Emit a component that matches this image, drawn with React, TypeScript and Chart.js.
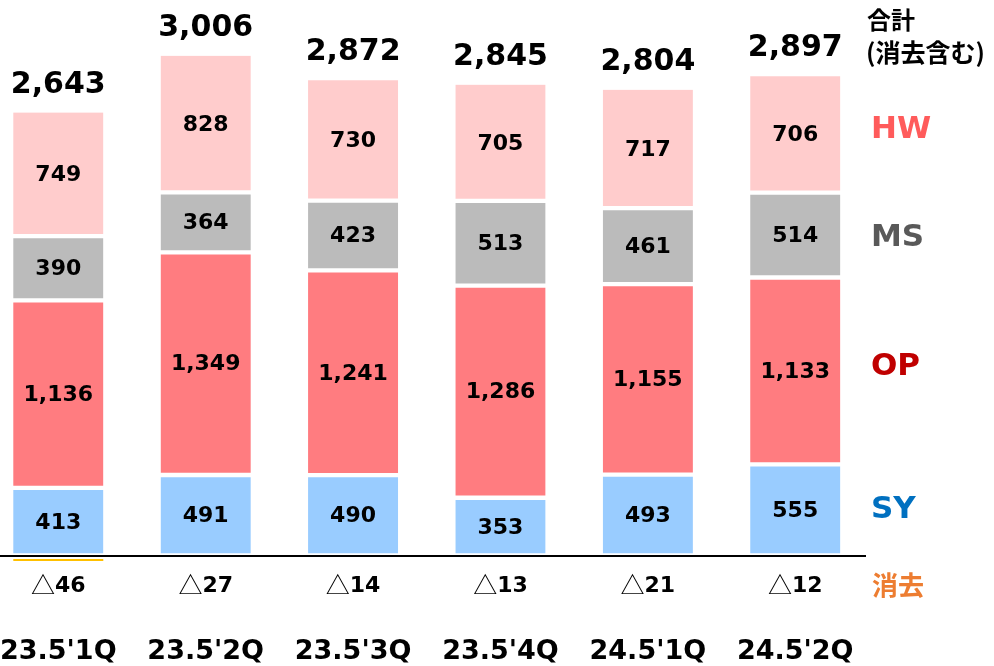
import React, { useEffect, useRef } from "react";
import { Chart, registerables } from "chart.js";

Chart.register(...registerables);

const categories = ["23.5'1Q", "23.5'2Q", "23.5'3Q", "23.5'4Q", "24.5'1Q", "24.5'2Q"];
const sy = [413, 491, 490, 353, 493, 555];
const op = [1136, 1349, 1241, 1286, 1155, 1133];
const ms = [390, 364, 423, 513, 461, 514];
const hw = [749, 828, 730, 705, 717, 706];
const elimination = [46, 27, 14, 13, 21, 12];
const totals = [2643, 3006, 2872, 2845, 2804, 2897];

const NUM_FONT = "'DejaVu Sans', 'Noto Sans CJK JP', sans-serif";
const CJK_FONT = "'Noto Sans CJK JP', 'DejaVu Sans', sans-serif";

const fmt = (v: number) => v.toLocaleString("en-US");

export default function App() {
  const ref = useRef<HTMLCanvasElement | null>(null);

  useEffect(() => {
    if (!ref.current) return;
    const toPts = (arr: number[]) => arr.map((v, i) => ({ x: i, y: v }));

    const labelPlugin = {
      id: "customLabels",
      afterDatasetsDraw(chart: any) {
        const ctx = chart.ctx as CanvasRenderingContext2D;
        const area = chart.chartArea;
        const xs = chart.scales.x;
        ctx.save();
        // segment labels
        chart.data.datasets.forEach((ds: any, di: number) => {
          const meta = chart.getDatasetMeta(di);
          meta.data.forEach((el: any, i: number) => {
            const v = ds.data[i].y;
            ctx.fillStyle = "#000";
            ctx.font = `bold 22px ${NUM_FONT}`;
            ctx.textAlign = "center";
            ctx.textBaseline = "middle";
            ctx.fillText(fmt(v), el.x, (el.y + el.base) / 2 + 1);
          });
        });
        // totals
        const topMeta = chart.getDatasetMeta(chart.data.datasets.length - 1);
        topMeta.data.forEach((el: any, i: number) => {
          ctx.fillStyle = "#000";
          ctx.font = `bold 30px ${NUM_FONT}`;
          ctx.textAlign = "center";
          ctx.textBaseline = "alphabetic";
          ctx.fillText(fmt(totals[i]), el.x, el.y - 20);
        });
        // elimination marker under first bar
        const x0 = xs.getPixelForValue(0);
        ctx.fillStyle = "#FFC000";
        ctx.fillRect(x0 - 45, 559, 90, 2);
        // axis line
        ctx.strokeStyle = "#000";
        ctx.lineWidth = 2;
        ctx.beginPath();
        ctx.moveTo(area.left, area.bottom);
        ctx.lineTo(area.right, area.bottom);
        ctx.stroke();
        // elimination values and categories
        categories.forEach((c, i) => {
          const x = xs.getPixelForValue(i);
          ctx.textBaseline = "middle";
          ctx.fillStyle = "#000";
          const num = String(elimination[i]);
          ctx.font = `24px ${CJK_FONT}`;
          const tw = ctx.measureText("△").width;
          ctx.font = `bold 22px ${NUM_FONT}`;
          const nw = ctx.measureText(num).width;
          const start = x - (tw + nw) / 2;
          ctx.textAlign = "left";
          ctx.font = `24px ${CJK_FONT}`;
          ctx.fillText("△", start, 585);
          ctx.font = `bold 22px ${NUM_FONT}`;
          ctx.fillText(num, start + tw, 586);
          ctx.textAlign = "center";
          ctx.font = `bold 27px ${NUM_FONT}`;
          ctx.fillText(c, x, 652);
        });
        // right side legend
        ctx.textAlign = "left";
        ctx.textBaseline = "middle";
        ctx.fillStyle = "#000";
        ctx.font = `bold 24px ${CJK_FONT}`;
        ctx.fillText("合計", 867, 20);
        ctx.font = `bold 25px ${CJK_FONT}`;
        ctx.fillText("(消去含む)", 866, 52);
        const legend: [string, string, number][] = [
          ["HW", "#FF5B5B", 130],
          ["MS", "#595959", 238],
          ["OP", "#C00000", 367],
          ["SY", "#0070C0", 510],
        ];
        legend.forEach(([t, col, y]) => {
          ctx.fillStyle = col;
          ctx.font = `bold 31px ${NUM_FONT}`;
          ctx.fillText(t, 871, y);
        });
        ctx.fillStyle = "#ED7D31";
        ctx.font = `bold 26px ${CJK_FONT}`;
        ctx.fillText("消去", 872, 585);
        ctx.restore();
      },
    };

    const chart = new Chart(ref.current, {
      type: "bar",
      data: {
        datasets: [
          {
            label: "SY",
            data: toPts(sy),
            backgroundColor: "#99CCFF",
            borderColor: "#FFFFFF",
            borderWidth: { top: 2.5, bottom: 3, left: 0, right: 0 },
            borderSkipped: false,
            barThickness: 90,
          },
          {
            label: "OP",
            data: toPts(op),
            backgroundColor: "#FF7C80",
            borderColor: "#FFFFFF",
            borderWidth: { top: 2.5, bottom: 2.5, left: 0, right: 0 },
            borderSkipped: false,
            barThickness: 90,
          },
          {
            label: "MS",
            data: toPts(ms),
            backgroundColor: "#BBBBBB",
            borderColor: "#FFFFFF",
            borderWidth: { top: 2.5, bottom: 2.5, left: 0, right: 0 },
            borderSkipped: false,
            barThickness: 90,
          },
          {
            label: "HW",
            data: toPts(hw),
            backgroundColor: "#FFCCCC",
            borderColor: "#FFFFFF",
            borderWidth: { top: 0, bottom: 2.5, left: 0, right: 0 },
            borderSkipped: false,
            barThickness: 90,
          },
        ] as any,
      },
      options: {
        animation: false,
        responsive: false,
        devicePixelRatio: 1,
        layout: { padding: { left: 0, right: 128, top: 0, bottom: 110 } },
        scales: {
          x: {
            type: "linear",
            min: -0.3955,
            max: 5.48,
            offset: false,
            bounds: "data",
            stacked: true,
            display: false,
          },
          y: {
            stacked: true,
            min: 0,
            max: 3370,
            display: false,
          },
        },
        plugins: {
          legend: { display: false },
          tooltip: { enabled: false },
        },
      } as any,
      plugins: [labelPlugin],
    });
    return () => chart.destroy();
  }, []);

  return (
    <div style={{ position: "absolute", left: 0, top: 0, width: 994, height: 666, background: "#fff" }}>
      <canvas ref={ref} width={994} height={666} style={{ width: 994, height: 666, display: "block" }} />
    </div>
  );
}
